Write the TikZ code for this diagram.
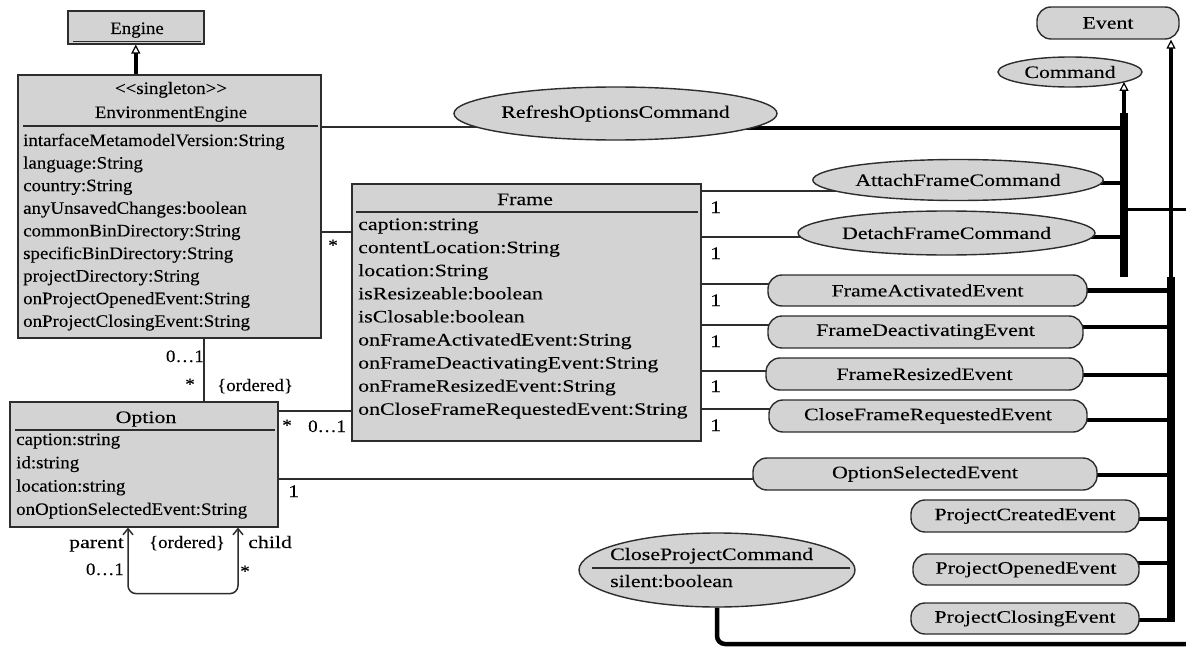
\documentclass[tikz,border=0pt]{standalone}
\usepackage{fontspec}
\setmainfont{Liberation Serif}
\newfontfamily\nfont{Liberation Serif}[FakeStretch=1.08, FakeBold=0.12]
\newfontfamily\wfont{Liberation Serif}[FakeStretch=1.25, FakeBold=0.12]
\usetikzlibrary{shapes.geometric,arrows.meta,backgrounds,calc}
\definecolor{boxfill}{RGB}{211,211,211}
\definecolor{ink}{RGB}{45,45,45}
\begin{document}
\begin{tikzpicture}[x=1pt,y=-1pt,
  every node/.style={font=\wfont\fontsize{17.5}{23}\selectfont},
  nar/.style={font=\nfont\fontsize{17.5}{23}\selectfont},
  txt/.style={inner sep=0pt},
  cls/.style={draw=ink, fill=boxfill, line width=1.6pt, rectangle, inner sep=0pt, anchor=north west},
  ell/.style={draw=ink, fill=boxfill, line width=1.4pt, ellipse, inner sep=0pt},
  pill/.style={draw=ink, fill=boxfill, line width=1.4pt, rectangle, rounded corners=14pt, inner sep=0pt, minimum height=32pt},
  sepline/.style={draw=ink, line width=1.6pt},
  assoc/.style={draw=ink, line width=1.5pt},
  tie/.style={draw=black, line width=4.5pt},
  branch/.style={draw=black, line width=3pt},
  bus/.style={draw=black, line width=7.5pt},
  gen/.style={draw=black, line width=3.6pt, -{Triangle[open, length=9pt, width=9pt, line width=1.2pt]}},
  barbs/.style={{Straight Barb[length=6pt, width=10pt]}-{Straight Barb[length=6pt, width=10pt]}},
]
\useasboundingbox (0,0) rectangle (1186,650);

% ---------- classes ----------
\node[cls, minimum width=136pt, minimum height=33pt] (eng) at (67,10) {};
\node[txt, nar, anchor=base] (engT) at (137,34) {Engine};

\node[cls, minimum width=303pt, minimum height=263pt] (env) at (17,74) {};
\node[txt, nar, anchor=base] (envS) at (171,94) {<\kern0pt<singleton>\kern0pt>};
\node[txt, nar, anchor=base] (envN) at (171,118) {EnvironmentEngine};
\foreach \a [count=\i from 0] in {intarfaceMetamodelVersion:String, language:String, country:String, anyUnsavedChanges:boolean, commonBinDirectory:String, specificBinDirectory:String, projectDirectory:String, onProjectOpenedEvent:String, onProjectClosingEvent:String}
  \node[txt, nar, anchor=base west] (envA\i) at (23,{146+22.6*\i}) {\a};

\node[cls, minimum width=349pt, minimum height=257pt] (frame) at (351,183) {};
\node[txt, anchor=base] (frameT) at (525,205) {Frame};
\foreach \a [count=\i from 0] in {caption:string, contentLocation:String, location:String, isResizeable:boolean, isClosable:boolean, onFrameActivatedEvent:String, onFrameDeactivatingEvent:String, onFrameResizedEvent:String, onCloseFrameRequestedEvent:String}
  \node[txt, anchor=base west] (frameA\i) at (358,{230+23.1*\i}) {\a};

\node[cls, minimum width=268pt, minimum height=125pt] (opt) at (9,401) {};
\node[txt, anchor=base] (optT) at (146,423) {Option};
\foreach \a [count=\i from 0] in {caption:string, id:string, location:string, onOptionSelectedEvent:String}
  \node[txt, nar, anchor=base west] (optA\i) at (16,{445+23.3*\i}) {\a};

% compartment rules
\draw[sepline] ($(eng.south west)+(6,-3)$) -- ($(eng.south east)+(-4,-3)$);
\draw[sepline] ($(env.north west)+(6,52)$) -- ($(env.north east)+(-4,52)$);
\draw[sepline] ($(frame.north west)+(5,29)$) -- ($(frame.north east)+(-4,29)$);
\draw[sepline] ($(opt.north west)+(6,29)$) -- ($(opt.north east)+(-4,29)$);

% ---------- commands ----------
\node[ell, minimum width=144pt, minimum height=30pt] (cmd) at (1070,72) {Command};
\node[ell, minimum width=285pt, minimum height=53pt] (refresh) at (615.5,113.5) {RefreshOptionsCommand};
\node[ell, minimum width=270pt, minimum height=41pt] (attach) at (958,180) {AttachFrameCommand};
\node[ell, minimum width=297pt, minimum height=44pt] (detach) at (946.5,233) {DetachFrameCommand};
\node[ell, minimum width=276pt, minimum height=74pt] (cpc) at (717,570) {};
\node[txt, anchor=base west] (cpcN) at (610,560) {CloseProjectCommand};
\node[txt, anchor=base west] (cpcA) at (610,587) {silent:boolean};
\draw[sepline] ($(cpc.center)+(-125,-2)$) -- ($(cpc.center)+(133,-2)$);

% ---------- events ----------
\node[pill, minimum width=142pt] (event) at (1108,23) {Event};
\node[pill, minimum width=319pt, minimum height=31pt] (fa) at (927.5,290.5) {FrameActivatedEvent};
\node[pill, minimum width=315pt] (fd) at (925.5,332) {FrameDeactivatingEvent};
\node[pill, minimum width=317pt] (fr) at (924.5,374) {FrameResizedEvent};
\node[pill, minimum width=318pt] (cfr) at (928,416) {CloseFrameRequestedEvent};
\node[pill, minimum width=344pt] (ose) at (925,474) {OptionSelectedEvent};
\node[pill, minimum width=228pt] (pc) at (1025,516) {ProjectCreatedEvent};
\node[pill, minimum width=226pt, minimum height=31pt] (po) at (1026,569.5) {ProjectOpenedEvent};
\node[pill, minimum width=228pt, minimum height=31pt] (pcl) at (1025,618.5) {ProjectClosingEvent};

% bus ends and off-page ends
\coordinate (cbusT) at (1124,113);
\coordinate (cbusB) at (1124,277);
\coordinate (ebusT) at (1171,277);
\coordinate (ebusB) at (1171,622);
\coordinate (cmdOut) at (1186,209);
\coordinate (cpOut) at (1186,644);

% ---------- multiplicities and roles ----------
\node[txt, nar, anchor=base east] (m1) at (204,362) {0…1};
\node[txt, nar, anchor=base] (m2) at (190,390) {*};
\node[txt, nar, anchor=base west] (m3) at (217,391) {\{ordered\}};
\node[txt, nar, anchor=base] (m4) at (333,251) {*};
\node[txt, nar, anchor=base] (m5) at (287,431) {*};
\node[txt, nar, anchor=base west] (m6) at (308,432) {0…1};
\node[txt, anchor=base west] (m7) at (288,497) {1};
\node[txt, anchor=base east] (m8) at (124,548) {parent};
\node[txt, nar, anchor=base] (m9) at (187,548) {\{ordered\}};
\node[txt, anchor=base west] (m10) at (248,548) {child};
\node[txt, nar, anchor=base east] (m11) at (124,575) {0…1};
\node[txt, nar, anchor=base] (m12) at (245,577) {*};
\foreach \y [count=\i] in {213,259,306,347,392,431}
  \node[txt, anchor=base west] (one\i) at (710,\y) {1};

% ---------- connectors ----------
\begin{scope}[on background layer]
  % generalisations
  \draw[gen] (env.north -| eng.south) -- (eng.south);
  \draw[bus] (cbusT) -- (cbusB);
  \draw[bus] (ebusT) -- (ebusB);
  \draw[gen] (cbusT) -- (cbusT |- cmd.-10);
  \draw[gen] (ebusT) -- (ebusT |- event.south);
  \draw[branch] (cbusT) |- (cmdOut);
  % command branches
  \draw[tie] (cbusT) |- ($(refresh.center)+(0,14.5)$);
  \draw[tie] (cbusT) |- ($(attach.center)+(0,3)$);
  \draw[tie] (cbusT) |- ($(detach.center)+(0,4)$);
  % event branches
  \draw[tie] (ebusT) |- ($(fa.center)+(0,0)$);
  \draw[tie] (ebusT) |- ($(fd.center)+(0,-5)$);
  \draw[tie] (ebusT) |- ($(fr.center)+(0,1)$);
  \draw[tie] (ebusT) |- ($(cfr.center)+(0,4)$);
  \draw[tie] (ebusT) |- ($(ose.center)+(0,1)$);
  \draw[tie] (ebusT) |- ($(pc.center)+(0,3)$);
  \draw[tie] (ebusT) |- ($(po.center)+(0,-6.5)$);
  \draw[tie] (ebusT) |- ($(pcl.center)+(0,1.5)$);
  \draw[tie, rounded corners=8pt] (cpc.south) |- (cpOut);
  % associations
  \draw[assoc] ($(env.north east)+(0,53)$) -| (refresh.center);
  \draw[assoc] ($(env.north east)+(0,158)$) -| (frame.center);
  \draw[assoc] ($(env.south west)+(187,0)$) -- ($(opt.north west)+(195,0)$);
  \draw[assoc] ($(opt.north east)+(0,10)$) -| (frame.center);
  \draw[assoc] ($(opt.north east)+(0,78)$) -| (ose.center);
  \draw[assoc] ($(frame.north east)+(0,8)$) -| (attach.center);
  \draw[assoc] ($(frame.north east)+(0,54)$) -| (detach.center);
  \draw[assoc] ($(frame.north east)+(0,101)$) -| (fa.center);
  \draw[assoc] ($(frame.north east)+(0,142)$) -| (fd.center);
  \draw[assoc] ($(frame.north east)+(0,188)$) -| (fr.center);
  \draw[assoc] ($(frame.north east)+(0,226)$) -| (cfr.center);
\end{scope}
% self association of Option
\draw[assoc, barbs, rounded corners=8pt] ($(opt.south west)+(119,0)$) -- ++(0,66) -| ($(opt.south west)+(229,0)$);
\end{tikzpicture}
\end{document}
